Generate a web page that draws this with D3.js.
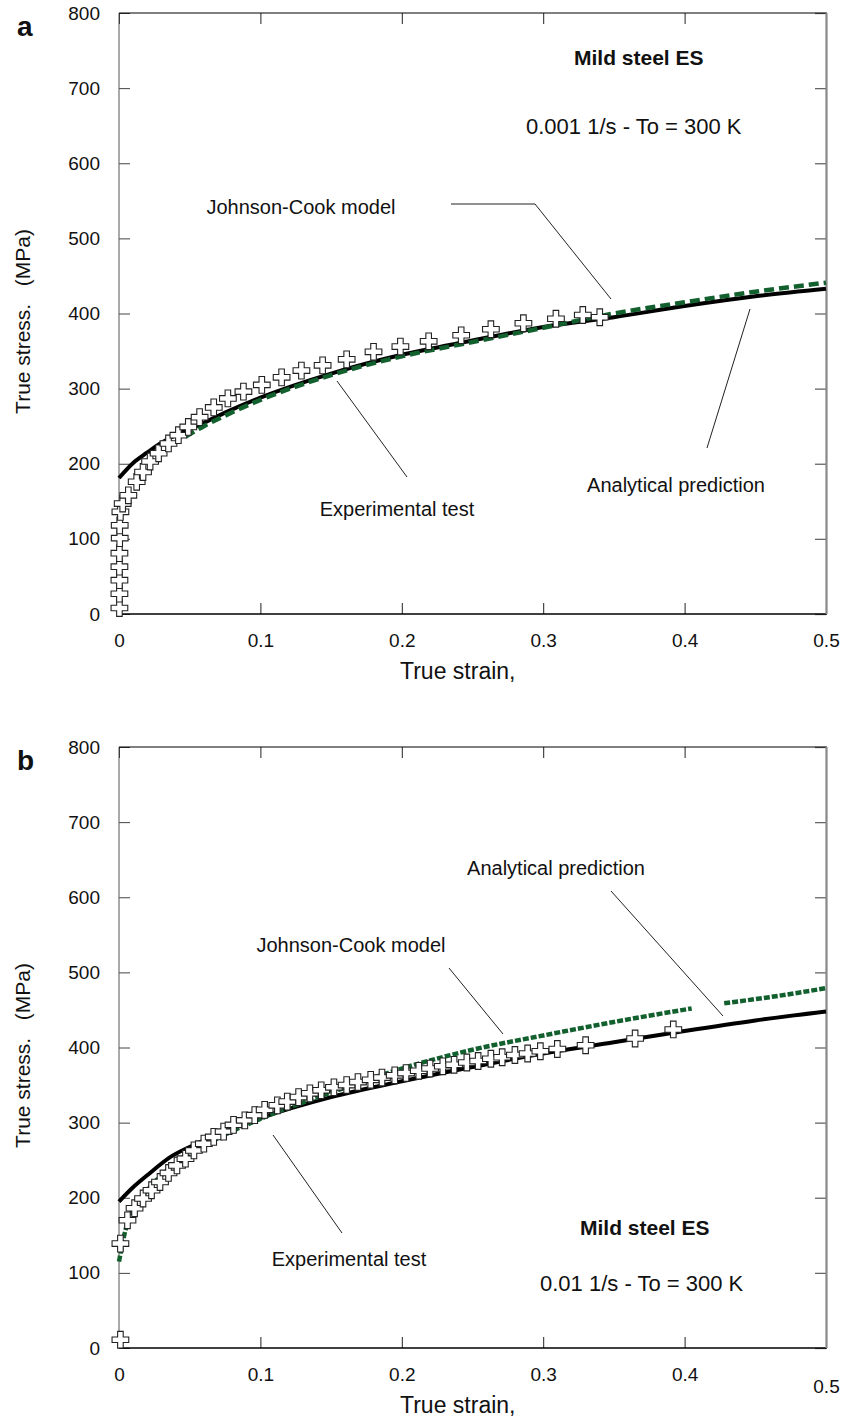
<!DOCTYPE html>
<html>
<head>
<meta charset="utf-8">
<script src="https://cdn.jsdelivr.net/npm/d3@7"></script>
<style>
  body { margin: 0; background: #fff; }
  text { font-family: "Liberation Sans", Arial, sans-serif; fill: #111; }
</style>
</head>
<body>
<div id="chart"></div>
<script>
const strainTicks = [0, 0.1, 0.2, 0.3, 0.4, 0.5];
const stressTicks = [0, 100, 200, 300, 400, 500, 600, 700, 800];

// panel a, 0.001 1/s  [strain, stress MPa]
const jcA = [[0, 181], [0.01, 201], [0.02, 215], [0.03, 228], [0.04, 238], [0.055, 250], [0.075, 268],
  [0.1, 288], [0.15, 320], [0.2, 345], [0.25, 364], [0.3, 382], [0.35, 395], [0.4, 410], [0.45, 423], [0.5, 433]];
const analyticalA = [[0.047, 236], [0.06, 250], [0.075, 264], [0.1, 285], [0.15, 318], [0.2, 343], [0.25, 362],
  [0.3, 381], [0.35, 400], [0.4, 415], [0.45, 429], [0.5, 441]];
const experimentA = [[0.0003, 8], [0.0003, 27], [0.0003, 45], [0.0003, 63], [0.0003, 81], [0.0005, 101], [0.0005, 118],
  [0.001, 136], [0.0026, 147], [0.0066, 158], [0.0125, 176], [0.017, 189], [0.022, 203], [0.028, 214], [0.035, 227],
  [0.042, 238], [0.049, 249], [0.057, 262], [0.067, 275], [0.077, 287], [0.088, 296], [0.101, 305], [0.115, 315],
  [0.129, 324], [0.144, 331], [0.161, 339], [0.18, 349], [0.199, 356], [0.219, 363], [0.242, 371], [0.263, 379],
  [0.286, 387], [0.309, 393], [0.328, 398], [0.34, 395]];

// panel b, 0.01 1/s
const jcB = [[0, 195], [0.01, 214], [0.02, 230], [0.037, 255], [0.055, 272], [0.075, 288], [0.1, 306], [0.15, 334],
  [0.2, 355], [0.25, 374], [0.3, 392], [0.35, 407], [0.4, 422], [0.45, 436], [0.5, 448]];
const analyticalB = [[0, 115], [0.002, 135], [0.005, 160], [0.01, 185], [0.02, 210], [0.035, 238], [0.05, 258],
  [0.075, 284], [0.1, 305], [0.15, 340], [0.2, 372], [0.25, 397], [0.3, 416], [0.35, 434], [0.405, 452], null,
  [0.428, 459], [0.46, 467], [0.5, 479]];
const experimentB = [[0.001, 11], [0.001, 139], [0.006, 170], [0.011, 186], [0.017, 199], [0.023, 210], [0.029, 221],
  [0.035, 233], [0.041, 243], [0.047, 252], [0.053, 263], [0.06, 272], [0.067, 281], [0.074, 288], [0.081, 297],
  [0.089, 303], [0.096, 310], [0.103, 317], [0.112, 323], [0.119, 328], [0.127, 334], [0.135, 339], [0.143, 343],
  [0.152, 347], [0.161, 350], [0.169, 354], [0.178, 357], [0.186, 360], [0.195, 363], [0.203, 366], [0.212, 369],
  [0.22, 372], [0.229, 375], [0.237, 377], [0.246, 380], [0.254, 382], [0.263, 385], [0.271, 387], [0.28, 390],
  [0.289, 392], [0.298, 395], [0.31, 398], [0.33, 403], [0.365, 412], [0.392, 424]];

const green = "#13602f";

const panels = [
  {
    letter: "a", top: 13, bottom: 614,
    jc: jcA, analytical: analyticalA, experiment: experimentA, dash: "10,5",
    title: { text: "Mild steel ES", x: 574, y: 57 },
    rate: { text: "0.001 1/s - To = 300 K", x: 526, y: 126 },
    notes: [
      { text: "Johnson-Cook model", x: 301, y: 207, leader: [[451, 204], [535, 204], [611, 299]] },
      { text: "Experimental test", x: 397, y: 509, leader: [[337, 381], [407, 477]] },
      { text: "Analytical prediction", x: 676, y: 485, leader: [[750, 309], [707, 448]] }
    ]
  },
  {
    letter: "b", top: 747, bottom: 1348,
    jc: jcB, analytical: analyticalB, experiment: experimentB, dash: "6,2",
    title: { text: "Mild steel ES", x: 580, y: 1227 },
    rate: { text: "0.01 1/s - To = 300 K", x: 540, y: 1283 },
    notes: [
      { text: "Analytical prediction", x: 556, y: 868, leader: [[611, 891], [723, 1016]] },
      { text: "Johnson-Cook model", x: 351, y: 945, leader: [[449, 968], [503, 1034]] },
      { text: "Experimental test", x: 349, y: 1259, leader: [[273, 1135], [342, 1233]] }
    ]
  }
];

const svg = d3.select("#chart").append("svg")
  .attr("width", 846)
  .attr("height", 1425);

panels.forEach((p, i) => drawPanel(p, i));

function drawPanel(p, i) {
  const x = d3.scaleLinear().domain([0, 0.5]).range([119, 826]);
  const y = d3.scaleLinear().domain([0, 800]).range([p.bottom, p.top]);
  const g = svg.append("g");

  // ticks point inward on all four sides
  const bottom = g.append("g").attr("transform", `translate(0,${p.bottom})`)
    .call(d3.axisBottom(x).tickValues(strainTicks).tickSizeInner(-11).tickSizeOuter(0).tickPadding(20)
      .tickFormat(d => d === 0 ? "0" : d3.format(".1f")(d)));
  const left = g.append("g").attr("transform", "translate(119,0)")
    .call(d3.axisLeft(y).tickValues(stressTicks).tickSizeInner(-11).tickSizeOuter(0).tickPadding(19));
  const top = g.append("g").attr("transform", `translate(0,${p.top})`)
    .call(d3.axisTop(x).tickValues(strainTicks).tickSizeInner(-11).tickSizeOuter(0).tickFormat(""));
  const right = g.append("g").attr("transform", "translate(826,0)")
    .call(d3.axisRight(y).tickValues(stressTicks).tickSizeInner(-11).tickSizeOuter(0).tickFormat(""));

  [bottom, left, top, right].forEach(a => {
    a.select(".domain").remove();
    a.selectAll("text").attr("font-size", 19).attr("font-family", null).attr("fill", "#111");
  });
  bottom.selectAll("line").attr("stroke", "#222");
  top.selectAll("line").attr("stroke", "#222");
  left.selectAll("line").attr("stroke", "#444");
  right.selectAll("line").attr("stroke", "#666").attr("stroke-width", 1.3);

  // in panel b the last strain label sits lower
  if (i === 1) bottom.selectAll(".tick").filter(d => d === 0.5).select("text").attr("y", 32);

  // frame
  g.append("line").attr("x1", 119).attr("x2", 119).attr("y1", p.top).attr("y2", p.bottom)
    .attr("stroke", "#555").attr("stroke-width", 1);
  g.append("line").attr("x1", 119).attr("x2", 827).attr("y1", p.bottom).attr("y2", p.bottom)
    .attr("stroke", "#000").attr("stroke-width", 1.5);
  g.append("line").attr("x1", 119).attr("x2", 827).attr("y1", p.top).attr("y2", p.top)
    .attr("stroke", "#000").attr("stroke-width", 1);
  g.append("line").attr("x1", 826.5).attr("x2", 826.5).attr("y1", p.top).attr("y2", p.bottom)
    .attr("stroke", "#888").attr("stroke-width", 2.2);

  // axis titles
  g.append("text")
    .attr("transform", `translate(30,${(p.top + p.bottom) / 2 + 8}) rotate(-90)`)
    .attr("text-anchor", "middle")
    .attr("font-size", 21)
    .style("white-space", "pre")
    .text("True stress.   (MPa)");
  g.append("text")
    .attr("x", 400).attr("y", p.bottom + 65)
    .attr("font-size", 23)
    .text("True strain,");

  g.append("text")
    .attr("x", 17).attr("y", p.top + 23)
    .attr("font-size", 28).attr("font-weight", "bold")
    .text(p.letter);

  // curves
  const line = d3.line()
    .defined(d => d)
    .x(d => x(d[0]))
    .y(d => y(d[1]))
    .curve(d3.curveMonotoneX);

  g.append("path").datum(p.jc)
    .attr("d", line)
    .attr("fill", "none").attr("stroke", "#000").attr("stroke-width", 4);

  g.append("path").datum(p.analytical)
    .attr("d", line)
    .attr("fill", "none").attr("stroke", green).attr("stroke-width", 4.5)
    .attr("stroke-dasharray", p.dash);

  g.selectAll("path.exp").data(p.experiment).join("path")
    .attr("class", "exp")
    .attr("transform", d => `translate(${x(d[0])},${y(d[1])})`)
    .attr("d", d3.symbol(d3.symbolCross, 155))
    .attr("fill", "#fff").attr("stroke", "#222").attr("stroke-width", 1.1);

  // annotations
  [p.title, p.rate].forEach((t, k) => {
    g.append("text")
      .attr("x", t.x).attr("y", t.y).attr("dy", "0.36em")
      .attr("font-size", k === 0 ? 21 : 22)
      .attr("font-weight", k === 0 ? "bold" : null)
      .text(t.text);
  });

  p.notes.forEach(n => {
    g.append("text")
      .attr("x", n.x).attr("y", n.y).attr("dy", "0.36em")
      .attr("text-anchor", "middle")
      .attr("font-size", 20)
      .text(n.text);
    g.append("path")
      .attr("d", d3.line()(n.leader))
      .attr("fill", "none").attr("stroke", "#222").attr("stroke-width", 1);
  });
}
</script>
</body>
</html>
